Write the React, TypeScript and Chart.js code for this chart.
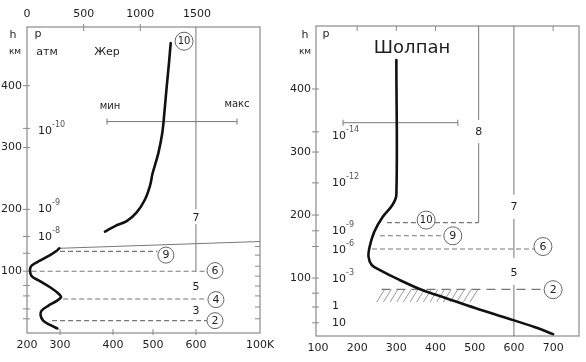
import React, { useEffect, useRef } from "react";
import { Chart, registerables, LinearScale } from "chart.js";

Chart.register(...registerables);

// ---------------- data ----------------
// Earth (Жер): lower atmosphere, bottom temperature axis (K)
const earthLowT = [292, 270, 249, 241, 244, 264, 290, 302, 295, 270, 239, 214, 209, 214, 239, 270, 290, 298];
const earthLowH = [7.5, 13, 20, 29, 36, 44, 52, 58, 64, 74, 84, 92, 102, 109, 117, 126, 133, 137];
// Earth: thermosphere, top temperature axis (K)
const earthHighT = [688, 777, 880, 968, 1041, 1085, 1108, 1159, 1194, 1212, 1233, 1253, 1268];
const earthHighH = [164, 173, 181, 195, 216, 238, 258, 291, 324, 356, 399, 437, 469];
// Venus (Шолпан)
const venusT = [300, 300, 290, 265, 244, 232, 229, 237, 257, 308, 366, 427, 503, 579, 654, 700];
const venusH = [446, 232, 216, 197, 174, 150, 134, 121, 113, 97, 81, 68, 52, 37, 22, 11];

// tick labels
const earthBottomTicks = [200, 300, 400, 500, 600, 1000];
const earthBottomLabels = ["200", "300", "400", "500", "600", "100K"];
const earthTopTicks = [0, 500, 1000, 1500];
const earthHeightTicks = [100, 200, 300, 400];
const earthMinorH = [23, 39, 60, 77, 129, 156, 331];
const earthInnerH = [23, 42, 60, 76, 92, 108, 126, 140];
const venusBottomTicks = [100, 200, 300, 400, 500, 600, 700];
const venusTopTicks = [200, 300, 400, 700];
const venusHeightTicks = [100, 200, 300, 400];
const venusMinorH = [29, 54, 76, 150, 175, 251, 332];

// pressure labels (атм)
const earthPressBase = ["10", "10", "10"];
const earthPressExp = ["-10", "-9", "-8"];
const earthPressH = [327, 200, 155];
const venusPressBase = ["10", "10", "10", "10", "10", "1", "10"];
const venusPressExp = ["-14", "-12", "-9", "-6", "-3", "", ""];
const venusPressH = [325, 251, 174, 144, 98, 55, 29];

// circled layer markers
const earthLayerNum = ["9", "6", "4", "2"];
const earthLayerH = [132, 100, 55, 20];
const earthLayerT0 = [300, 214, 306, 276];
const earthLayerT1 = [510, 669, 669, 669];
const earthCircleT = [530, 719, 725, 719];
const earthCircleH = [126, 101, 54, 20];

const venusLayerNum = ["10", "9", "6", "2"];
const venusLayerH = [188, 167, 146, 82];
const venusLayerT0 = [276, 258, 238, 262];
const venusLayerT1 = [510, 424, 654, 674];
const venusCircleT = [376, 444, 674, 700];
const venusCircleH = [192, 167, 150, 81.5];

// layer numbers (plain)
const earthZoneLabels = ["7", "5", "3"];
const earthZoneT = [600, 600, 600];
const earthZoneH = [185, 74, 35];
const venusZoneLabels = ["8", "7", "5"];
const venusZoneT = [510, 600, 600];
const venusZoneH = [332, 213, 108];

// vertical boundary lines (value, [from h, to h] segments)
const earthVLineT = 600;
const earthVLineSegs = [[495, 200], [176, 100]];
const venusVLine8T = 510;
const venusVLine8Segs = [[500, 351], [314, 188]];
const venusVLine7T = 600;
const venusVLine7Segs = [[500, 232], [194, 132], [89, 8]];

// Earth turbopause line
const earthBoundT = [298, 1000];
const earthBoundH = [137, 148];

// min–max bars
const earthRangeT = [706, 1853];
const earthRangeH = 342;
const venusRangeT = [164, 457];
const venusRangeH = 346.5;

// Venus cloud deck hatch
const venusHatchT = [262, 515];
const venusHatchH = [62, 82];

// ---------------- style ----------------
const FONT = '"DejaVu Sans", "Liberation Sans", sans-serif';
const TEXT = "#1e1e1e";
const FRAME = "#8a8a8a";
const DASH = "#777";

// piecewise temperature axis for Earth's bottom scale
const PIECE_F = [0, 0.1416, 0.369, 0.541, 0.725, 1];
class PiecewiseScale extends LinearScale {
  static id = "piecewise";
  static defaults = {};
  getPixelForValue(value: number) {
    if (value === null || value === undefined || isNaN(value)) return NaN;
    const v = earthBottomTicks;
    const f = PIECE_F;
    let i = 0;
    while (i < v.length - 2 && value > v[i + 1]) i++;
    const dec = f[i] + ((value - v[i]) / (v[i + 1] - v[i])) * (f[i + 1] - f[i]);
    return this.getPixelForDecimal(dec);
  }
  getValueForPixel(pixel: number) {
    const dec = this.getDecimalForPixel(pixel);
    const v = earthBottomTicks;
    const f = PIECE_F;
    let i = 0;
    while (i < f.length - 2 && dec > f[i + 1]) i++;
    return v[i] + ((dec - f[i]) / (f[i + 1] - f[i])) * (v[i + 1] - v[i]);
  }
}
Chart.register(PiecewiseScale as any);

// ---------------- helpers ----------------
function seg(ctx: CanvasRenderingContext2D, x1: number, y1: number, x2: number, y2: number) {
  ctx.beginPath();
  ctx.moveTo(x1, y1);
  ctx.lineTo(x2, y2);
  ctx.stroke();
}
function text(ctx: CanvasRenderingContext2D, s: string, x: number, y: number, size: number, align: CanvasTextAlign = "center", color = TEXT) {
  ctx.font = `${size}px ${FONT}`;
  ctx.textAlign = align;
  ctx.textBaseline = "middle";
  ctx.fillStyle = color;
  ctx.fillText(s, x, y);
}
function power(ctx: CanvasRenderingContext2D, base: string, exp: string, x: number, y: number) {
  text(ctx, base, x, y, 11, "left");
  if (exp) {
    ctx.font = `11px ${FONT}`;
    const w = ctx.measureText(base).width;
    text(ctx, exp, x + w, y - 6, 8, "left", "#555");
  }
}
function circled(ctx: CanvasRenderingContext2D, s: string, x: number, y: number, r: number) {
  ctx.setLineDash([]);
  ctx.beginPath();
  ctx.arc(x, y, r, 0, Math.PI * 2);
  ctx.fillStyle = "#fff";
  ctx.fill();
  ctx.strokeStyle = "#666";
  ctx.lineWidth = 1;
  ctx.stroke();
  text(ctx, s, x, y + 0.5, s.length > 1 ? 10 : 11);
}
function rangeBar(ctx: CanvasRenderingContext2D, x0: number, x1: number, y: number) {
  ctx.setLineDash([]);
  ctx.strokeStyle = "#777";
  ctx.lineWidth = 1;
  seg(ctx, x0, y, x1, y);
  seg(ctx, x0, y - 3, x0, y + 3);
  seg(ctx, x1, y - 3, x1, y + 3);
}

// ---------------- plugins ----------------
const earthPlugin = {
  id: "earthAnnot",
  beforeDatasetsDraw(chart: any) {
    const { ctx, chartArea: a, scales } = chart;
    const X = (v: number) => scales.x.getPixelForValue(v);
    const X2 = (v: number) => scales.x2.getPixelForValue(v);
    const Y = (v: number) => scales.y.getPixelForValue(v);
    ctx.save();
    ctx.setLineDash([]);
    ctx.strokeStyle = FRAME;
    ctx.lineWidth = 1.2;
    ctx.strokeRect(a.left, a.top, a.right - a.left, a.bottom - a.top);
    ctx.lineWidth = 1;
    [...earthHeightTicks, ...earthMinorH].forEach((h) => seg(ctx, a.left - 4, Y(h), a.left + 3, Y(h)));
    earthInnerH.forEach((h) => seg(ctx, a.right - 5, Y(h), a.right, Y(h)));
    earthTopTicks.slice(1, 3).forEach((t) => seg(ctx, X2(t), a.top - 3, X2(t), a.top + 4));
    earthBottomTicks.slice(1, 5).forEach((t) => seg(ctx, X(t), a.bottom - 4, X(t), a.bottom + 2));

    // vertical boundary
    ctx.strokeStyle = "#777";
    earthVLineSegs.forEach(([h0, h1]) => seg(ctx, X(earthVLineT), Y(h0), X(earthVLineT), Y(h1)));
    // turbopause line
    seg(ctx, X(earthBoundT[0]), Y(earthBoundH[0]), X(earthBoundT[1]), Y(earthBoundH[1]));

    // dashed layer lines
    ctx.strokeStyle = DASH;
    ctx.lineWidth = 1.1;
    ctx.setLineDash([5, 3]);
    earthLayerNum.forEach((_, i) => seg(ctx, X(earthLayerT0[i]), Y(earthLayerH[i]), X(earthLayerT1[i]), Y(earthLayerH[i])));
    earthLayerNum.forEach((n, i) => circled(ctx, n, X(earthCircleT[i]), Y(earthCircleH[i]), 8));

    earthZoneLabels.forEach((s, i) => text(ctx, s, X(earthZoneT[i]), Y(earthZoneH[i]), 11));

    // range bar
    rangeBar(ctx, X2(earthRangeT[0]), X2(earthRangeT[1]), Y(earthRangeH));
    text(ctx, "мин", X2(733), Y(366), 10);
    text(ctx, "макс", X2(1853), Y(370), 10);

    circled(ctx, "10", X2(1386), Y(472), 9);
    text(ctx, "Жер", X2(706), Y(455), 11);

    earthPressH.forEach((h, i) => power(ctx, earthPressBase[i], earthPressExp[i], a.left + 11, Y(h)));

    text(ctx, "h", a.left - 14, a.top + 8, 11);
    text(ctx, "км", a.left - 12, a.top + 25, 9);
    text(ctx, "p", a.left + 11, a.top + 7, 11);
    text(ctx, "атм", a.left + 20, a.top + 25, 11);
    ctx.restore();
  },
};

const venusPlugin = {
  id: "venusAnnot",
  beforeDatasetsDraw(chart: any) {
    const { ctx, chartArea: a, scales } = chart;
    const X = (v: number) => scales.x.getPixelForValue(v);
    const Y = (v: number) => scales.y.getPixelForValue(v);
    ctx.save();
    ctx.setLineDash([]);
    ctx.strokeStyle = FRAME;
    ctx.lineWidth = 1.2;
    ctx.strokeRect(a.left, a.top, a.right - a.left, a.bottom - a.top);
    ctx.lineWidth = 1;
    [...venusHeightTicks, ...venusMinorH].forEach((h) => seg(ctx, a.left - 4, Y(h), a.left + 3, Y(h)));
    venusTopTicks.forEach((t) => seg(ctx, X(t), a.top, X(t), a.top + 5));

    ctx.strokeStyle = "#777";
    venusVLine8Segs.forEach(([h0, h1]) => seg(ctx, X(venusVLine8T), Y(h0), X(venusVLine8T), Y(h1)));
    venusVLine7Segs.forEach(([h0, h1]) => seg(ctx, X(venusVLine7T), Y(h0), X(venusVLine7T), Y(h1)));

    // hatch (cloud layer)
    ctx.strokeStyle = "#999";
    ctx.lineWidth = 1;
    const step = 17;
    for (let t = venusHatchT[0] + 8; t <= venusHatchT[1]; t += step) {
      seg(ctx, X(t), Y(venusHatchH[1]), X(t - 20), Y(venusHatchH[0]));
    }

    // dashed layer lines
    ctx.strokeStyle = DASH;
    ctx.lineWidth = 1.1;
    venusLayerNum.forEach((_, i) => {
      ctx.setLineDash(i === 3 ? [9, 6] : [5, 3]);
      seg(ctx, X(venusLayerT0[i]), Y(venusLayerH[i]), X(venusLayerT1[i]), Y(venusLayerH[i]));
    });
    ctx.setLineDash([]);
    venusLayerNum.forEach((n, i) => circled(ctx, n, X(venusCircleT[i]), Y(venusCircleH[i]), 9));

    venusZoneLabels.forEach((s, i) => text(ctx, s, X(venusZoneT[i]), Y(venusZoneH[i]), 11));

    rangeBar(ctx, X(venusRangeT[0]), X(venusRangeT[1]), Y(venusRangeH));

    venusPressH.forEach((h, i) => power(ctx, venusPressBase[i], venusPressExp[i], a.left + 16, Y(h)));

    text(ctx, "Шолпан", X(340), Y(465), 18);
    text(ctx, "h", a.left - 11, a.top + 9, 11);
    text(ctx, "км", a.left - 11, a.top + 26, 9);
    text(ctx, "p", a.left + 10, a.top + 8, 11);
    ctx.restore();
  },
};

// ---------------- configs ----------------
const tickFont = { family: FONT, size: 11 };
const noGrid = { display: false, drawTicks: false, tickLength: 0 };

function curve(xs: number[], ys: number[], xAxisID = "x") {
  return {
    data: xs.map((x, i) => ({ x, y: ys[i] })),
    xAxisID,
    yAxisID: "y",
    showLine: true,
    borderColor: "#111",
    borderWidth: 2.6,
    pointRadius: 0,
    tension: 0.35,
    fill: false,
    borderCapStyle: "round",
  };
}

function earthConfig(): any {
  return {
    type: "scatter",
    data: {
      datasets: [curve(earthLowT, earthLowH, "x"), curve(earthHighT, earthHighH, "x2")],
    },
    options: {
      responsive: false,
      animation: false,
      devicePixelRatio: 1,
      layout: { padding: { left: 0, right: 30, top: 0, bottom: 0 } },
      plugins: { legend: { display: false }, tooltip: { enabled: false } },
      scales: {
        x: {
          type: "piecewise",
          position: "bottom",
          min: 200,
          max: 1000,
          afterBuildTicks: (s: any) => {
            s.ticks = earthBottomTicks.map((v) => ({ value: v }));
          },
          afterFit: (s: any) => {
            s.height = 29;
          },
          ticks: {
            autoSkip: false,
            maxRotation: 0,
            padding: 6,
            font: tickFont,
            color: TEXT,
            callback: (v: number) => earthBottomLabels[earthBottomTicks.indexOf(v)] ?? "",
          },
          grid: noGrid,
          border: { display: false },
        },
        x2: {
          type: "linear",
          position: "top",
          min: 0,
          max: 2056,
          afterBuildTicks: (s: any) => {
            s.ticks = earthTopTicks.map((v) => ({ value: v }));
          },
          afterFit: (s: any) => {
            s.height = 27;
          },
          ticks: { autoSkip: false, maxRotation: 0, padding: 6, font: tickFont, color: TEXT, callback: (v: number) => String(v) },
          grid: noGrid,
          border: { display: false },
        },
        y: {
          type: "linear",
          position: "left",
          min: 0,
          max: 495,
          afterBuildTicks: (s: any) => {
            s.ticks = earthHeightTicks.map((v) => ({ value: v }));
          },
          afterFit: (s: any) => {
            s.width = 27;
          },
          ticks: { autoSkip: false, padding: 5, font: tickFont, color: TEXT, callback: (v: number) => String(v) },
          grid: noGrid,
          border: { display: false },
        },
      },
    },
    plugins: [earthPlugin],
  };
}

function venusConfig(): any {
  return {
    type: "scatter",
    data: { datasets: [curve(venusT, venusH, "x")] },
    options: {
      responsive: false,
      animation: false,
      devicePixelRatio: 1,
      layout: { padding: { left: 0, right: 7, top: 26, bottom: 0 } },
      plugins: { legend: { display: false }, tooltip: { enabled: false } },
      scales: {
        x: {
          type: "linear",
          position: "bottom",
          min: 95,
          max: 766,
          afterBuildTicks: (s: any) => {
            s.ticks = venusBottomTicks.map((v) => ({ value: v }));
          },
          afterFit: (s: any) => {
            s.height = 26;
          },
          ticks: { autoSkip: false, maxRotation: 0, padding: 6, font: tickFont, color: TEXT, callback: (v: number) => String(v) },
          grid: noGrid,
          border: { display: false },
        },
        y: {
          type: "linear",
          position: "left",
          min: 8,
          max: 500,
          afterBuildTicks: (s: any) => {
            s.ticks = venusHeightTicks.map((v) => ({ value: v }));
          },
          afterFit: (s: any) => {
            s.width = 26;
          },
          ticks: { autoSkip: false, padding: 5, font: tickFont, color: TEXT, callback: (v: number) => String(v) },
          grid: noGrid,
          border: { display: false },
        },
      },
    },
    plugins: [venusPlugin],
  };
}

export default function App() {
  const leftRef = useRef<HTMLCanvasElement>(null);
  const rightRef = useRef<HTMLCanvasElement>(null);
  useEffect(() => {
    const c1 = new Chart(leftRef.current as HTMLCanvasElement, earthConfig());
    const c2 = new Chart(rightRef.current as HTMLCanvasElement, venusConfig());
    return () => {
      c1.destroy();
      c2.destroy();
    };
  }, []);
  return (
    <div style={{ position: "fixed", left: 0, top: 0, width: 586, height: 362, background: "#fff" }}>
      <canvas ref={leftRef} width={290} height={362} style={{ position: "absolute", left: 0, top: 0, width: 290, height: 362 }} />
      <canvas ref={rightRef} width={296} height={362} style={{ position: "absolute", left: 290, top: 0, width: 296, height: 362 }} />
    </div>
  );
}
